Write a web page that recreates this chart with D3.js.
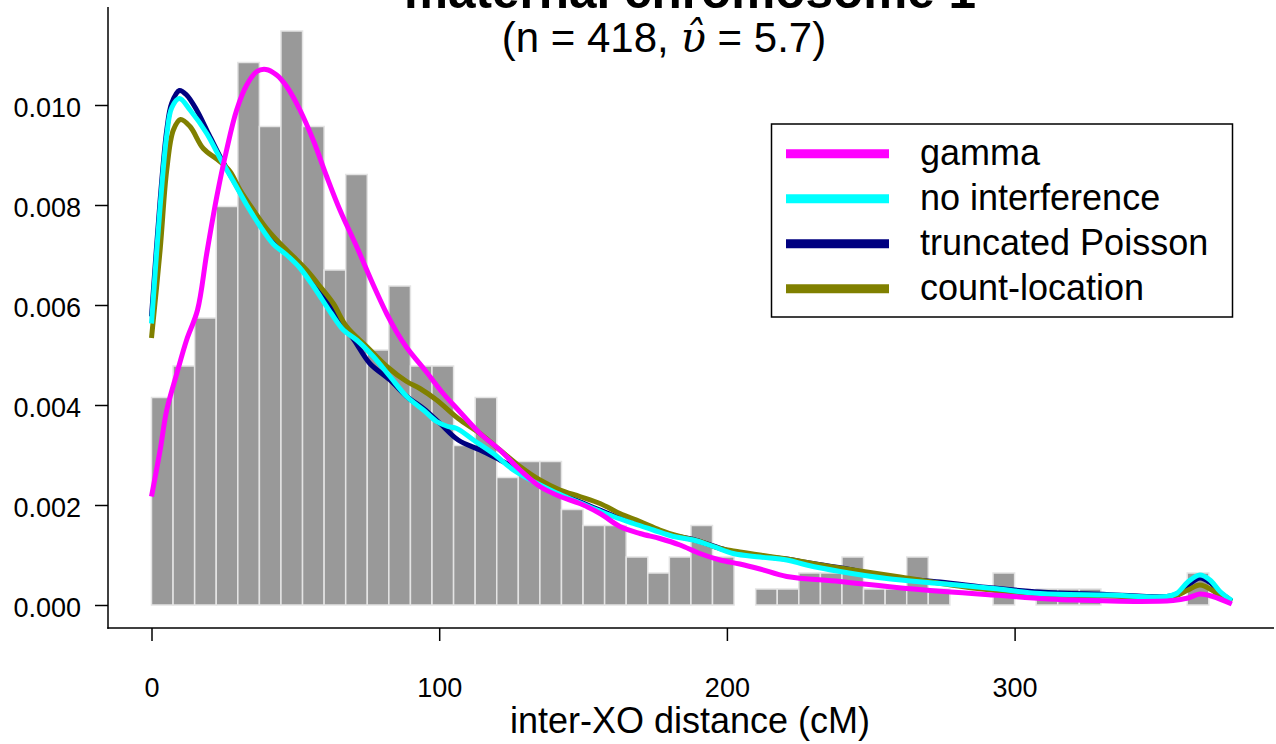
<!DOCTYPE html>
<html>
<head>
<meta charset="utf-8">
<script src="https://cdn.jsdelivr.net/npm/d3@7"></script>
<style>
  body { margin: 0; background: #fff; }
  svg { display: block; font-family: "Liberation Sans", Arial, sans-serif; }
</style>
</head>
<body>
<svg id="chart" width="1276" height="744"></svg>
<script>
// ---------- data ----------
const binBreaks = [0,7.5,15,22.5,30,37.5,45,52.5,60,67.5,75,82.5,90,97.5,105,112.5,120,127.5,135,142.5,150,157.5,165,172.5,180,187.5,195,202.5,210,217.5,225,232.5,240,247.5,255,262.5,270,277.5,285,292.5,300,307.5,315,322.5,330,337.5,345,352.5,360,367.5,375];
const binDensity = [0.00415,0.00478,0.00574,0.00797,0.01085,0.00957,0.01148,0.00957,0.00670,0.00861,
  0.00510,0.00638,0.00478,0.00478,0.00319,0.00415,0.00255,0.00287,0.00287,0.00191,
  0.00159,0.00159,0.00096,0.00064,0.00096,0.00159,0.00096,0,0.00032,0.00032,
  0.00064,0.00064,0.00096,0.00032,0.00032,0.00096,0.00032,0,0,0.00064,
  0,0.00032,0.00032,0.00032,0,0,0,0,0.00064,0];

const gammaCurve = [[0,0.00217],[3.0,0.00310],[5.3,0.00390],[8.8,0.00463],[12.2,0.00530],[16.0,0.00590],[19.2,0.00703],[22.7,0.00817],[26.1,0.00910],[29.6,0.00990],[33.1,0.01040],[36.6,0.01067],[39.8,0.01071],[43.5,0.01060],[47.0,0.01037],[51.6,0.00990],[56.2,0.00930],[60.9,0.00857],[65.5,0.00790],[71.3,0.00717],[77.1,0.00640],[81.8,0.00582],[85.2,0.00546],[88.7,0.00515],[95.7,0.00465],[101.4,0.00423],[106.6,0.00390],[114.2,0.00343],[121.1,0.00310],[128.1,0.00270],[135.0,0.00237],[142.0,0.00217],[148.9,0.00203],[155.9,0.00183],[162.8,0.00157],[169.8,0.00143],[176.7,0.00133],[183.7,0.00120],[190.6,0.00103],[197.6,0.00090],[204.5,0.00082],[211.5,0.00072],[220.8,0.00057],[239.3,0.00047],[262.5,0.00033],[292.6,0.00020],[320.3,0.00010],[355.1,0.00009],[360.3,0.00014],[364.4,0.00022],[368.9,0.00017],[375.5,0.00002]];

const noInterfCurve = [[0,0.00563],[3.0,0.00797],[5.3,0.00940],[7.0,0.00994],[9.7,0.01013],[13.4,0.00990],[19.2,0.00943],[23.8,0.00894],[28.4,0.00848],[33.1,0.00800],[37.7,0.00758],[42.3,0.00722],[47.0,0.00700],[51.6,0.00674],[56.2,0.00638],[62.5,0.00583],[66.7,0.00550],[71.3,0.00530],[77.1,0.00497],[82.9,0.00457],[88.7,0.00417],[94.5,0.00390],[99.1,0.00367],[103.0,0.00357],[106.1,0.00353],[111.9,0.00330],[118.8,0.00303],[125.8,0.00270],[132.7,0.00247],[139.7,0.00227],[146.6,0.00210],[153.6,0.00193],[160.5,0.00177],[167.5,0.00163],[174.4,0.00150],[181.4,0.00137],[188.3,0.00130],[195.3,0.00117],[202.2,0.00103],[211.5,0.00096],[220.8,0.00090],[227.7,0.00080],[239.3,0.00067],[255.5,0.00053],[274.1,0.00043],[292.6,0.00033],[308.8,0.00023],[332.0,0.00020],[352.9,0.00017],[356.3,0.00023],[360.4,0.00047],[364.4,0.00060],[367.9,0.00050],[371.4,0.00027],[375.5,0.00009]];

const truncPoissonCurve = [[0,0.00577],[3.0,0.00810],[5.3,0.00950],[7.0,0.01003],[9.7,0.01029],[12.2,0.01020],[15.7,0.00990],[19.2,0.00950],[23.8,0.00897],[28.4,0.00850],[33.1,0.00803],[37.7,0.00763],[42.3,0.00730],[47.0,0.00703],[51.6,0.00677],[56.2,0.00643],[60.9,0.00610],[64.9,0.00573],[70.4,0.00530],[75.9,0.00483],[82.9,0.00450],[88.7,0.00417],[94.5,0.00393],[100.3,0.00363],[106.6,0.00330],[114.2,0.00310],[121.1,0.00290],[125.8,0.00276],[132.7,0.00249],[139.7,0.00229],[146.6,0.00212],[153.6,0.00195],[160.5,0.00179],[167.5,0.00165],[174.4,0.00152],[181.4,0.00139],[188.3,0.00131],[195.3,0.00118],[202.2,0.00106],[211.5,0.00098],[220.8,0.00092],[227.7,0.00085],[242.7,0.00071],[255.5,0.00056],[274.1,0.00046],[292.6,0.00034],[308.8,0.00026],[332.0,0.00021],[352.9,0.00017],[356.3,0.00022],[360.4,0.00040],[364.4,0.00054],[367.9,0.00045],[371.4,0.00025],[375.5,0.00008]];

const countLocCurve = [[0,0.00534],[3.0,0.00710],[5.3,0.00870],[7.6,0.00950],[10.1,0.00971],[13.4,0.00957],[18.0,0.00913],[23.8,0.00887],[27.3,0.00867],[30.8,0.00830],[35.4,0.00790],[40.0,0.00753],[44.7,0.00723],[49.3,0.00697],[53.9,0.00670],[58.6,0.00637],[63.2,0.00603],[67.8,0.00557],[74.8,0.00517],[81.8,0.00477],[88.7,0.00447],[93.3,0.00433],[99.1,0.00410],[106.6,0.00373],[114.2,0.00343],[121.1,0.00310],[128.1,0.00277],[135.0,0.00250],[142.0,0.00230],[148.9,0.00217],[155.9,0.00203],[162.8,0.00183],[169.8,0.00167],[176.7,0.00150],[183.7,0.00137],[190.6,0.00127],[197.6,0.00113],[204.5,0.00106],[220.8,0.00092],[239.3,0.00074],[260.2,0.00056],[285.5,0.00034],[308.8,0.00022],[332.0,0.00018],[352.9,0.00015],[356.3,0.00019],[360.3,0.00030],[364.4,0.00040],[368.6,0.00030],[372.0,0.00015],[375.5,0.00006]];

const xTicks = [0, 100, 200, 300];
const yTicks = [0.000, 0.002, 0.004, 0.006, 0.008, 0.010];
const legendLabels = ["gamma", "no interference", "truncated Poisson", "count-location"];
const legendColors = ["#ff00ff", "#00ffff", "#000080", "#808000"];
const titleText = "maternal chromosome 1";
const xLabel = "inter-XO distance (cM)";

// ---------- drawing ----------
const svg = d3.select("#chart");
const x = d3.scaleLinear().domain([0, 300]).range([151.5, 151.5 + 300 * 2.877]);
const y = d3.scaleLinear().domain([0, 0.010]).range([605, 105]);

// histogram bars
const bars = binDensity.map((d, i) => ({x0: binBreaks[i], x1: binBreaks[i + 1], d}));
svg.append("g").selectAll("rect").data(bars).join("rect")
  .attr("x", b => x(b.x0))
  .attr("y", b => y(b.d))
  .attr("width", b => x(b.x1) - x(b.x0))
  .attr("height", b => y(0) - y(b.d))
  .attr("fill", "#999999")
  .attr("stroke", "#e4e4e4")
  .attr("stroke-width", 1.5);

// curves
const line = d3.line().x(d => x(d[0])).y(d => y(d[1])).curve(d3.curveCatmullRom.alpha(0.5));
const curveOrder = [[truncPoissonCurve, legendColors[2]], [countLocCurve, legendColors[3]], [noInterfCurve, legendColors[1]], [gammaCurve, legendColors[0]]];
svg.append("g").selectAll("path").data(curveOrder).join("path")
  .attr("d", c => line(c[0]))
  .attr("fill", "none")
  .attr("stroke", c => c[1])
  .attr("stroke-width", 5)
  .attr("stroke-linejoin", "round")
  .attr("stroke-linecap", "butt");

// axes
const yAxis = d3.axisLeft(y).tickValues(yTicks).tickFormat(d3.format(".3f")).tickSize(13).tickSizeOuter(0).tickPadding(14);
const gy = svg.append("g").attr("transform", "translate(108,0)").call(yAxis);
gy.select(".domain").remove();
gy.selectAll(".tick line").attr("stroke", "#000").attr("stroke-width", 1.5);
gy.selectAll(".tick text").attr("font-size", 27).attr("font-family", "Liberation Sans, Arial, sans-serif").attr("fill", "#000").attr("dy", "0.42em");

const xAxis = d3.axisBottom(x).tickValues(xTicks).tickFormat(d3.format("d")).tickSize(13).tickSizeOuter(0).tickPadding(37);
const gx = svg.append("g").attr("transform", "translate(0,628)").call(xAxis);
gx.select(".domain").remove();
gx.selectAll(".tick line").attr("stroke", "#000").attr("stroke-width", 1.5);
gx.selectAll(".tick text").attr("font-size", 27).attr("font-family", "Liberation Sans, Arial, sans-serif").attr("fill", "#000");

svg.append("line").attr("x1", 108).attr("x2", 108).attr("y1", 7).attr("y2", 628.75).attr("stroke", "#000").attr("stroke-width", 1.5);
svg.append("line").attr("x1", 107.25).attr("x2", 1274).attr("y1", 628).attr("y2", 628).attr("stroke", "#000").attr("stroke-width", 1.5);

// titles
svg.append("text").attr("x", 690).attr("y", 8).attr("text-anchor", "middle")
  .attr("font-size", 49.5).attr("font-weight", "bold").text(titleText);

const sub = svg.append("text").attr("x", 664).attr("y", 52).attr("text-anchor", "middle").attr("font-size", 42);
sub.append("tspan").text("(n = 418, ");
sub.append("tspan").attr("font-family", "DejaVu Serif, serif").attr("font-style", "italic").text("\u03C5\u0302");
sub.append("tspan").text(" = 5.7)");

svg.append("text").attr("x", 690).attr("y", 733).attr("text-anchor", "middle")
  .attr("font-size", 36).text(xLabel);

// legend
const lg = svg.append("g");
lg.append("rect").attr("x", 771.5).attr("y", 124).attr("width", 461).attr("height", 193)
  .attr("fill", "#fff").attr("stroke", "#000").attr("stroke-width", 1.5);
const rows = lg.selectAll("g.row").data(legendLabels).join("g").attr("class", "row")
  .attr("transform", (d, i) => `translate(0,${153.7 + i * 45})`);
rows.append("line").attr("x1", 786).attr("x2", 889).attr("y1", 0).attr("y2", 0)
  .attr("stroke", (d, i) => legendColors[i]).attr("stroke-width", 9);
rows.append("text").attr("x", 920).attr("y", 11.5).attr("font-size", 36).text(d => d);
</script>
</body>
</html>
